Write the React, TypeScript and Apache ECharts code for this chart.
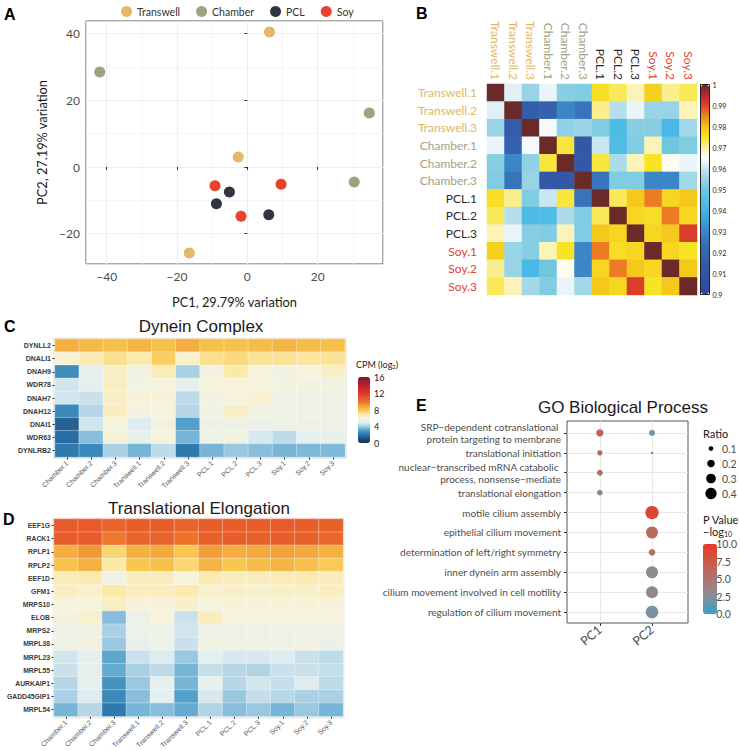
import React, { useEffect, useRef } from 'react';
import * as echarts from 'echarts';

// ---------- Panel A: PCA ----------
const pcaGroups = ['Transwell', 'Chamber', 'PCL', 'Soy'];
const pcaColors = ['#e3b866', '#9fa37f', '#2f3640', '#e8412c'];
const pcaTranswell = [[6.3, 40.5], [-2.6, 3.0], [-16.5, -25.8]];
const pcaChamber = [[-42, 28.5], [34.7, 16.2], [30.4, -4.5]];
const pcaPCL = [[-5.1, -7.5], [-8.8, -11], [6.1, -14.3]];
const pcaSoy = [[-9.2, -5.6], [9.6, -5.2], [-1.8, -14.8]];
const pcaXTicks = [-40, -20, 0, 20];
const pcaXMinor = [-30, -10, 10, 30];
const pcaYTicks = [-20, 0, 20, 40];
const pcaYMinor = [-10, 10, 30];

// ---------- Panel B: correlation ----------
const samples = ['Transwell.1', 'Transwell.2', 'Transwell.3', 'Chamber.1', 'Chamber.2', 'Chamber.3', 'PCL.1', 'PCL.2', 'PCL.3', 'Soy.1', 'Soy.2', 'Soy.3'];
const corrTranswell1 = [1, 0.962, 0.955, 0.963, 0.953, 0.952, 0.976, 0.973, 0.969, 0.978, 0.971, 0.973];
const corrTranswell2 = [0.962, 1, 0.915, 0.918, 0.930, 0.925, 0.971, 0.958, 0.963, 0.955, 0.955, 0.969];
const corrTranswell3 = [0.955, 0.915, 1, 0.964, 0.954, 0.955, 0.952, 0.943, 0.953, 0.953, 0.942, 0.956];
const corrChamber1 = [0.963, 0.918, 0.964, 1, 0.974, 0.912, 0.960, 0.944, 0.952, 0.969, 0.950, 0.952];
const corrChamber2 = [0.953, 0.930, 0.954, 0.974, 1, 0.912, 0.974, 0.957, 0.969, 0.975, 0.966, 0.963];
const corrChamber3 = [0.952, 0.925, 0.955, 0.912, 0.912, 1, 0.925, 0.952, 0.952, 0.930, 0.930, 0.956];
const corrPCL1 = [0.976, 0.971, 0.952, 0.960, 0.974, 0.925, 1, 0.973, 0.979, 0.986, 0.977, 0.979];
const corrPCL2 = [0.973, 0.958, 0.943, 0.944, 0.957, 0.952, 0.973, 1, 0.977, 0.976, 0.986, 0.977];
const corrPCL3 = [0.969, 0.963, 0.953, 0.952, 0.969, 0.952, 0.979, 0.977, 1, 0.977, 0.979, 0.991];
const corrSoy1 = [0.978, 0.955, 0.953, 0.969, 0.975, 0.930, 0.986, 0.976, 0.977, 1, 0.977, 0.975];
const corrSoy2 = [0.971, 0.955, 0.942, 0.950, 0.966, 0.930, 0.977, 0.986, 0.979, 0.977, 1, 0.979];
const corrSoy3 = [0.973, 0.969, 0.956, 0.952, 0.963, 0.956, 0.979, 0.977, 0.991, 0.975, 0.979, 1];
const corrRows = [corrTranswell1, corrTranswell2, corrTranswell3, corrChamber1, corrChamber2, corrChamber3, corrPCL1, corrPCL2, corrPCL3, corrSoy1, corrSoy2, corrSoy3];
const corrColors = ['#2d4a9b', '#2f4fa0', '#3155a5', '#335cab', '#3566b2', '#3874bb', '#3a86c6', '#3d9ed6', '#41b4e6', '#55bfe3', '#6fc6df', '#99d4e6', '#c9e7f0', '#ffffff', '#fbf0a8', '#f7e425', '#f5c21a', '#ee8a22', '#e6402a', '#b52a2c', '#6b2a2a'];
const groupColorMap: Record<string, string> = { Transwell: '#e2b663', Chamber: '#a2a482', PCL: '#2b2b2b', Soy: '#e8412c' };

// ---------- Panels C / D: expression heatmaps ----------
const expColumns = ['Chamber.1', 'Chamber.2', 'Chamber.3', 'Transwell.1', 'Transwell.2', 'Transwell.3', 'PCL.1', 'PCL.2', 'PCL.3', 'Soy.1', 'Soy.2', 'Soy.3'];
const dyneinGenes = ['DYNLL2', 'DNALI1', 'DNAH9', 'WDR78', 'DNAH7', 'DNAH12', 'DNAI1', 'WDR63', 'DYNLRB2'];
const dyneinValues = [
  [8.6, 8.4, 8.2, 8.5, 8.2, 8.7, 8.2, 8.2, 8.3, 8.5, 8.3, 8.2],
  [6.2, 6.8, 7.3, 6.9, 7.8, 6.3, 7.3, 7.5, 7.2, 7.2, 7.1, 7.2],
  [2.6, 5.1, 6.5, 5.7, 6.7, 4.1, 5.7, 7.0, 6.0, 5.7, 6.0, 6.4],
  [4.7, 5.1, 6.5, 5.7, 6.0, 5.1, 6.0, 6.1, 6.0, 5.8, 5.8, 5.8],
  [4.7, 4.6, 6.4, 6.1, 6.1, 4.4, 5.7, 6.0, 6.2, 5.5, 5.5, 5.5],
  [2.5, 4.3, 6.6, 5.7, 6.0, 4.3, 5.7, 6.4, 5.7, 5.6, 5.6, 5.6],
  [1.5, 4.7, 6.0, 4.9, 5.8, 3.1, 5.6, 5.6, 5.4, 5.5, 5.6, 5.5],
  [1.8, 3.7, 6.1, 5.2, 6.0, 3.5, 5.5, 5.8, 4.8, 4.4, 5.0, 5.2],
  [2.1, 2.5, 4.1, 3.5, 4.4, 2.1, 3.5, 3.9, 3.7, 3.5, 3.6, 3.6],
];
const elongGenes = ['EEF1G', 'RACK1', 'RPLP1', 'RPLP2', 'EEF1D', 'GFM1', 'MRPS10', 'ELOB', 'MRPS2', 'MRPL38', 'MRPL23', 'MRPL55', 'AURKAIP1', 'GADD45GIP1', 'MRPL54'];
const elongValues = [
  [10.8, 10.8, 10.5, 10.7, 10.7, 10.5, 10.7, 10.7, 10.7, 10.8, 10.7, 10.6],
  [10.7, 10.8, 9.9, 10.5, 10.5, 10.0, 10.6, 10.7, 10.6, 10.7, 10.6, 10.4],
  [8.7, 9.2, 7.6, 8.6, 8.8, 8.0, 9.1, 8.7, 8.8, 9.0, 8.8, 8.6],
  [8.1, 8.6, 7.0, 8.0, 8.2, 7.6, 8.5, 8.0, 8.3, 8.5, 8.2, 7.9],
  [6.7, 6.9, 5.6, 6.6, 6.6, 6.0, 6.8, 6.6, 6.6, 6.7, 6.8, 6.6],
  [6.5, 6.3, 7.0, 6.5, 6.6, 6.9, 6.3, 6.4, 6.3, 6.4, 6.4, 6.5],
  [6.0, 6.0, 6.5, 6.1, 6.1, 6.3, 6.0, 6.1, 6.1, 6.1, 6.1, 6.1],
  [5.8, 6.3, 3.7, 5.4, 6.0, 4.6, 6.6, 6.0, 6.0, 6.0, 6.0, 6.0],
  [5.6, 5.7, 4.1, 5.4, 5.5, 4.7, 5.6, 5.6, 5.6, 5.6, 5.6, 5.6],
  [5.5, 5.8, 3.9, 5.3, 5.5, 4.6, 5.7, 5.6, 5.5, 5.5, 5.7, 5.4],
  [4.7, 5.1, 3.2, 4.6, 4.9, 3.9, 5.0, 4.8, 4.8, 4.9, 4.6, 4.4],
  [4.6, 5.1, 3.3, 4.1, 4.4, 3.5, 4.5, 4.3, 4.2, 4.6, 4.6, 4.5],
  [4.3, 5.1, 2.8, 3.9, 5.1, 3.5, 5.2, 4.3, 4.7, 4.5, 4.9, 4.4],
  [4.1, 4.9, 2.5, 3.7, 5.0, 3.1, 4.8, 3.9, 4.5, 4.3, 4.1, 4.1],
  [3.5, 4.3, 2.1, 3.5, 3.7, 3.3, 4.2, 3.7, 3.9, 3.5, 3.9, 3.5],
];
const cpmColors = ['#1d2f45', '#1f4e79', '#2a76ac', '#4a9cc8', '#a3cde4', '#e4eff0', '#f6f3dc', '#fbe9a8', '#f8c74f', '#f2a23a', '#ec742a', '#e5542b', '#de3a2c', '#cf2a2f', '#b8222f', '#9a1e2c', '#7a1a28'];

// ---------- Panel E: GO dot plot ----------
const goTerms = [
  'SRP\u2212dependent cotranslational \nprotein targeting to membrane',
  'translational initiation',
  'nuclear\u2212transcribed mRNA catabolic \nprocess, nonsense\u2212mediate',
  'translational elongation',
  'motile cilium assembly',
  'epithelial cilium movement',
  'determination of left/right symmetry',
  'inner dynein arm assembly',
  'cilium movement involved in cell motility',
  'regulation of cilium movement',
];
const goPCs = ['PC1', 'PC2'];
const goPC1Ratio = [0.19, 0.117, 0.14, 0.13, null, null, null, null, null, null];
const goPC1P = [6.5, 6.2, 5.5, 3.0, null, null, null, null, null, null];
const goPC2Ratio = [0.14, 0.058, null, null, 0.54, 0.445, 0.165, 0.445, 0.445, 0.49];
const goPC2P = [1.8, 1.5, null, null, 9.0, 6.0, 5.5, 3.0, 3.0, 2.0];
const ratioBreaks = ['0.1', '0.2', '0.3', '0.4'];
const pvalColors = ['#35a2c6', '#8a8d97', '#ab7670', '#cc5a45', '#e8392a'];

const LATO = 'Lato';
const ARIAL = 'Liberation Sans';
const fmtMinus = (v: number) => (v < 0 ? '\u2212' + Math.abs(v) : String(v));
const sizeOf = (r: number) => Math.sqrt(Math.max(353 * r - 13.3, 4));

function buildOption() {
  const pcaSets = [pcaTranswell, pcaChamber, pcaPCL, pcaSoy];
  const corrData: number[][] = [];
  corrRows.forEach((row, i) => row.forEach((v, j) => corrData.push([j, i, v])));
  const dynData: number[][] = [];
  dyneinValues.forEach((row, i) => row.forEach((v, j) => dynData.push([j, i, v])));
  const elData: number[][] = [];
  elongValues.forEach((row, i) => row.forEach((v, j) => elData.push([j, i, v])));
  const goData: number[][] = [];
  goTerms.forEach((_t, i) => {
    if (goPC1Ratio[i] != null) goData.push([1, i + 1, goPC1Ratio[i] as number, goPC1P[i] as number]);
    if (goPC2Ratio[i] != null) goData.push([2, i + 1, goPC2Ratio[i] as number, goPC2P[i] as number]);
  });
  const ratioData = ratioBreaks.map((b) => [0.5, b, Number(b)]);
  const groupColor = (v: string) => groupColorMap[String(v).split('.')[0]] || '#333';

  const hidden = { show: false };
  const auxX = (gi: number) => ({ gridIndex: gi, type: 'value', min: 0, max: 1, show: false });

  const heatX = (gi: number) => ({
    gridIndex: gi, type: 'category', data: expColumns,
    axisLine: hidden, splitLine: hidden,
    axisTick: { show: true, alignWithLabel: true, length: 2.5, lineStyle: { color: '#333', width: 1 } },
    axisLabel: { interval: 0, rotate: 45, fontSize: 7, color: '#555555', margin: 5, fontFamily: ARIAL },
  });
  const heatY = (gi: number, genes: string[], fs: number) => ({
    gridIndex: gi, type: 'category', data: genes, inverse: true,
    axisLine: hidden, splitLine: hidden,
    axisTick: { show: true, alignWithLabel: true, length: 2.5, lineStyle: { color: '#333', width: 1 } },
    axisLabel: { interval: 0, fontSize: fs, fontWeight: 'bold', color: '#3a3a3a', margin: 4, fontFamily: ARIAL },
  });

  return {
    animation: false,
    backgroundColor: '#fff',
    textStyle: { fontFamily: LATO },
    legend: {
      data: pcaGroups, left: 116, top: 1, icon: 'circle', itemWidth: 11, itemHeight: 11, itemGap: 16,
      textStyle: { fontSize: 10.5, color: '#333', fontFamily: LATO }, selectedMode: false,
    },
    grid: [
      { left: 86, top: 21, width: 297, height: 243, show: true, borderColor: '#555', borderWidth: 1, backgroundColor: '#fff' },
      { left: 487, top: 84, width: 210, height: 211 },
      { left: 700.5, top: 84.5, width: 9, height: 210, show: true, borderColor: '#222', borderWidth: 1, backgroundColor: 'transparent' },
      { left: 55, top: 339, width: 290, height: 118 },
      { left: 358, top: 377, width: 12, height: 66 },
      { left: 54, top: 519, width: 289, height: 198 },
      { left: 567, top: 421, width: 121, height: 202, show: true, borderColor: '#555', borderWidth: 1, backgroundColor: '#fff' },
      { left: 703, top: 544, width: 14, height: 70 },
      { left: 706, top: 441, width: 10, height: 60 },
    ],
    xAxis: [
      {
        gridIndex: 0, type: 'value', min: -45.9, max: 38.6, splitNumber: 5, minInterval: 20, maxInterval: 20,
        axisLine: hidden,
        axisTick: { show: true, length: 3, customValues: pcaXTicks, lineStyle: { color: '#333' } },
        axisLabel: { customValues: pcaXTicks, formatter: fmtMinus, fontSize: 12, color: '#4d4d4d', margin: 6, fontFamily: LATO },
        splitLine: { show: true, customValues: pcaXTicks, lineStyle: { color: '#e8e8e8', width: 1.1 } },
        name: 'PC1, 29.79% variation', nameLocation: 'middle', nameGap: 31,
        nameTextStyle: { fontSize: 12.8, color: '#1a1a1a', fontFamily: LATO },
      },
      {
        gridIndex: 0, type: 'value', position: 'top', min: -45.9, max: 38.6, minInterval: 10, maxInterval: 10,
        axisLine: hidden, axisTick: hidden, axisLabel: hidden,
        splitLine: { show: true, customValues: pcaXMinor, lineStyle: { color: '#f1f1f1', width: 0.7 } },
      },
      {
        gridIndex: 1, type: 'category', data: samples, position: 'top',
        axisLine: hidden, axisTick: hidden, splitLine: hidden,
        axisLabel: { interval: 0, rotate: 90, margin: 4, fontSize: 12, fontFamily: LATO, color: groupColor },
      },
      auxX(2),
      heatX(3),
      auxX(4),
      heatX(5),
      {
        gridIndex: 6, type: 'value', min: 0.37, max: 2.69,
        axisLine: hidden,
        axisTick: { show: true, length: 3, customValues: [1, 2], lineStyle: { color: '#333' } },
        axisLabel: { customValues: [1, 2], formatter: (v: number) => goPCs[Math.round(v) - 1], rotate: 40, fontSize: 12.5, color: '#4d4d4d', margin: 5, fontFamily: LATO },
        splitLine: { show: true, customValues: [1, 2], lineStyle: { color: '#e8e8e8', width: 1.1 } },
      },
      auxX(7),
      auxX(8),
    ],
    yAxis: [
      {
        gridIndex: 0, type: 'value', min: -29.1, max: 43.8, splitNumber: 3, minInterval: 20, maxInterval: 20,
        axisLine: hidden,
        axisTick: { show: true, length: 3, customValues: pcaYTicks, lineStyle: { color: '#333' } },
        axisLabel: { customValues: pcaYTicks, formatter: fmtMinus, fontSize: 12, color: '#4d4d4d', margin: 6, fontFamily: LATO },
        splitLine: { show: true, customValues: pcaYTicks, lineStyle: { color: '#e8e8e8', width: 1.1 } },
        name: 'PC2, 27.19% variation', nameLocation: 'middle', nameGap: 38,
        nameTextStyle: { fontSize: 12.8, color: '#1a1a1a', fontFamily: LATO },
      },
      {
        gridIndex: 0, type: 'value', position: 'right', min: -29.1, max: 43.8, minInterval: 10, maxInterval: 10,
        axisLine: hidden, axisTick: hidden, axisLabel: hidden,
        splitLine: { show: true, customValues: pcaYMinor, lineStyle: { color: '#f1f1f1', width: 0.7 } },
      },
      {
        gridIndex: 1, type: 'category', data: samples, inverse: true,
        axisLine: hidden, axisTick: hidden, splitLine: hidden,
        axisLabel: { interval: 0, margin: 10, fontSize: 12, fontFamily: LATO, color: groupColor },
      },
      {
        gridIndex: 2, type: 'value', position: 'right', min: 0.9, max: 1, interval: 0.01,
        axisLine: hidden, splitLine: hidden,
        axisTick: { show: true, length: 2, lineStyle: { color: '#333' } },
        axisLabel: { fontSize: 7, color: '#222', margin: 3, fontFamily: LATO, formatter: (v: number) => String(Math.round(v * 100) / 100) },
      },
      heatY(3, dyneinGenes, 7),
      {
        gridIndex: 4, type: 'value', position: 'right', min: 0, max: 16, interval: 4,
        axisLine: hidden, splitLine: hidden,
        axisTick: { show: true, inside: true, length: 2.5, lineStyle: { color: '#fff' } },
        axisLabel: { fontSize: 9, color: '#222', margin: 4, fontFamily: LATO },
      },
      heatY(5, elongGenes, 6.8),
      {
        gridIndex: 6, type: 'value', min: 0.4, max: 10.55, inverse: true,
        axisLine: hidden,
        axisTick: { show: true, length: 3, customValues: [1, 2, 3, 4, 5, 6, 7, 8, 9, 10], lineStyle: { color: '#333' } },
        axisLabel: {
          customValues: [1, 2, 3, 4, 5, 6, 7, 8, 9, 10], formatter: (v: number) => goTerms[Math.round(v) - 1],
          fontSize: 10, lineHeight: 11.7, color: '#4d4d4d', margin: 6, fontFamily: LATO, align: 'right',
        },
        splitLine: { show: true, customValues: [1, 2, 3, 4, 5, 6, 7, 8, 9, 10], lineStyle: { color: '#e8e8e8', width: 1.1 } },
      },
      {
        gridIndex: 7, type: 'value', position: 'right', min: 0, max: 10, interval: 2.5,
        axisLine: hidden, splitLine: hidden,
        axisTick: { show: true, inside: true, length: 3, lineStyle: { color: '#fff' } },
        axisLabel: { fontSize: 10.5, color: '#4d4d4d', margin: 5, fontFamily: LATO, formatter: (v: number) => v.toFixed(1) },
      },
      {
        gridIndex: 8, type: 'category', data: ratioBreaks, inverse: true, position: 'right',
        axisLine: hidden, axisTick: hidden, splitLine: hidden,
        axisLabel: { interval: 0, fontSize: 10.5, color: '#4d4d4d', margin: 6, fontFamily: LATO },
      },
    ],
    visualMap: [
      {
        type: 'continuous', seriesIndex: 4, dimension: 2, min: 0.9, max: 1, calculable: false,
        inRange: { color: corrColors }, left: 701, top: 85, itemWidth: 8, itemHeight: 209, padding: 0, showLabel: false,
      },
      {
        type: 'continuous', seriesIndex: [5, 6], dimension: 2, min: 0, max: 16, calculable: false,
        inRange: { color: cpmColors }, left: 358, top: 377, itemWidth: 12, itemHeight: 66, padding: 0,
      },
      {
        type: 'continuous', seriesIndex: 7, dimension: 3, min: 0, max: 10, calculable: false,
        inRange: { color: pvalColors }, left: 703, top: 544, itemWidth: 14, itemHeight: 70, padding: 0,
      },
    ],
    series: [
      ...pcaSets.map((set, k) => ({
        name: pcaGroups[k], type: 'scatter', xAxisIndex: 0, yAxisIndex: 0, data: set,
        symbolSize: 11, itemStyle: { color: pcaColors[k], opacity: 1 }, emphasis: { disabled: true },
      })),
      {
        type: 'heatmap', xAxisIndex: 2, yAxisIndex: 2, data: corrData, emphasis: { disabled: true },
        itemStyle: { borderWidth: 0 },
      },
      {
        type: 'heatmap', xAxisIndex: 4, yAxisIndex: 4, data: dynData, emphasis: { disabled: true },
        itemStyle: { borderColor: 'rgba(255,255,255,0.55)', borderWidth: 0.6 },
      },
      {
        type: 'heatmap', xAxisIndex: 6, yAxisIndex: 6, data: elData, emphasis: { disabled: true },
        itemStyle: { borderColor: 'rgba(255,255,255,0.55)', borderWidth: 0.6 },
      },
      {
        type: 'scatter', xAxisIndex: 7, yAxisIndex: 7, data: goData,
        symbolSize: (v: number[]) => sizeOf(v[2]), itemStyle: { opacity: 1 }, emphasis: { disabled: true },
      },
      {
        type: 'scatter', xAxisIndex: 9, yAxisIndex: 9, data: ratioData,
        symbolSize: (v: any[]) => sizeOf(v[2]), itemStyle: { color: '#000', opacity: 1 }, emphasis: { disabled: true },
      },
    ],
    graphic: [
      { type: 'rect', z: -10, shape: { x: 53, y: 337.5, width: 294, height: 121.5 }, style: { fill: '#ebebeb' }, silent: true },
      { type: 'rect', z: -10, shape: { x: 52.5, y: 517.5, width: 292, height: 201 }, style: { fill: '#ebebeb' }, silent: true },
      { type: 'text', style: { text: 'A', x: 4, y: 6, font: 'bold 16px "Liberation Sans"', fill: '#000' } },
      { type: 'text', style: { text: 'B', x: 416, y: 5, font: 'bold 16px "Liberation Sans"', fill: '#000' } },
      { type: 'text', style: { text: 'C', x: 4, y: 318, font: 'bold 16px "Liberation Sans"', fill: '#000' } },
      { type: 'text', style: { text: 'D', x: 3, y: 511, font: 'bold 16px "Liberation Sans"', fill: '#000' } },
      { type: 'text', style: { text: 'E', x: 416, y: 397, font: 'bold 16px "Liberation Sans"', fill: '#000' } },
      { type: 'text', style: { text: 'Dynein Complex', x: 201, y: 326, align: 'center', verticalAlign: 'middle', font: '17px "Liberation Sans"', fill: '#1a1a1a' } },
      { type: 'text', style: { text: 'Translational Elongation', x: 199, y: 508, align: 'center', verticalAlign: 'middle', font: '17px "Liberation Sans"', fill: '#1a1a1a' } },
      { type: 'text', style: { text: 'GO Biological Process', x: 623, y: 407, align: 'center', verticalAlign: 'middle', font: '17px "Liberation Sans"', fill: '#1a1a1a' } },
      {
        type: 'text', style: {
          text: '{a|CPM (log}{s|2}{a|)}', x: 356, y: 364, verticalAlign: 'middle', fill: '#222',
          rich: { a: { fontSize: 9, fontFamily: LATO, fill: '#222' }, s: { fontSize: 6, fontFamily: LATO, fill: '#222', padding: [5, 0, 0, 0] } },
        },
      },
      { type: 'text', style: { text: 'Ratio', x: 703, y: 433, verticalAlign: 'middle', font: '11px Lato', fill: '#1a1a1a' } },
      { type: 'text', style: { text: 'P Value', x: 703, y: 519, verticalAlign: 'middle', font: '11px Lato', fill: '#1a1a1a' } },
      {
        type: 'text', style: {
          text: '{a|\u2212log}{s|10}', x: 703, y: 531, verticalAlign: 'middle', fill: '#1a1a1a',
          rich: { a: { fontSize: 11, fontFamily: LATO, fill: '#1a1a1a' }, s: { fontSize: 7, fontFamily: LATO, fill: '#1a1a1a', padding: [6, 0, 0, 0] } },
        },
      },
    ],
  };
}

export default function App() {
  const ref = useRef<HTMLDivElement>(null);
  useEffect(() => {
    document.body.style.margin = '0';
    const chart = echarts.init(ref.current as HTMLDivElement, null, { renderer: 'svg' });
    chart.setOption(buildOption() as any);
    return () => chart.dispose();
  }, []);
  return <div ref={ref} style={{ width: 740, height: 751 }} />;
}
